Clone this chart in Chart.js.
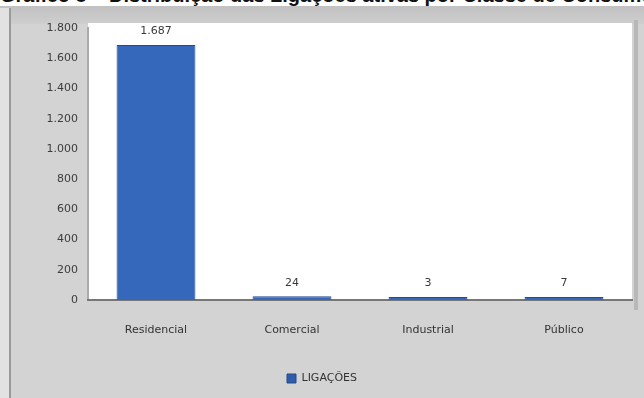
<!DOCTYPE html>
<html>
<head>
<meta charset="utf-8">
<script src="https://cdn.jsdelivr.net/npm/chart.js@4"></script>
<style>
   html, body { margin: 0; padding: 0; background: #d2d2d2; overflow: hidden; }
   #wrap { position: relative; width: 644px; height: 398px; }
   #titulo {
      position: absolute; top: -16px; left: 0; width: 644px;
      font: bold 20px "Liberation Sans", sans-serif; color: #111;
      white-space: nowrap; overflow: hidden; background: #fff; height: 22px;
   }
   canvas { position: absolute; top: 0; left: 0; }
</style>
</head>
<body>
<div id="wrap">
   <canvas id="grafico" width="644" height="398"></canvas>
   <div id="titulo">Gráfico 8 – Distribuição das Ligações ativas por Classe de Consumo – 2013</div>
</div>
<script>
const categorias = ['Residencial', 'Comercial', 'Industrial', 'Público']
const ligacoes = [1687, 24, 3, 7]
const ticksY = [0, 200, 400, 600, 800, 1000, 1200, 1400, 1600, 1800]
const serieNome = 'LIGAÇÕES'

const fmt = v => v.toLocaleString('pt-BR')

// fundo cinza do painel + area branca do grafico
const fundo = {
   id: 'fundo',
   beforeDraw(chart) {
      const { ctx, chartArea: a } = chart
      ctx.save()
      const g = ctx.createLinearGradient(0, 0, 0, 24)
      g.addColorStop(0, '#bdbdbd')
      g.addColorStop(1, '#cecece')
      ctx.fillStyle = g
      ctx.fillRect(0, 0, 644, 24)
      ctx.fillStyle = '#d3d3d3'
      ctx.fillRect(0, 24, 644, 374)
      ctx.fillStyle = '#e2e2e2'
      ctx.fillRect(0, 8, 9, 390)
      ctx.fillStyle = '#9a9a9a'
      ctx.fillRect(9, 8, 2, 390)
      ctx.fillStyle = '#b8b8b8'
      ctx.fillRect(634, 20, 4, 290)
      ctx.fillStyle = '#ffffff'
      ctx.fillRect(a.left, a.top - 5, a.right - a.left, a.bottom - a.top + 5)
      ctx.restore()
   }
}

// rotulos de valor acima das barras
const rotulos = {
   id: 'rotulos',
   afterDatasetsDraw(chart) {
      const { ctx } = chart
      const meta = chart.getDatasetMeta(0)
      ctx.save()
      ctx.font = '11px "DejaVu Sans", sans-serif'
      ctx.fillStyle = '#3a3a3a'
      ctx.textAlign = 'center'
      ctx.textBaseline = 'bottom'
      meta.data.forEach((bar, i) => {
         ctx.fillText(fmt(ligacoes[i]), bar.x, bar.y - 8)
      })
      ctx.restore()
   }
}

// barra com leve degradê horizontal
function corBarra(context) {
   const bar = context.element
   if (!bar || bar.width == null) return '#3567ba'
   const { ctx } = context.chart
   const g = ctx.createLinearGradient(bar.x - bar.width / 2, 0, bar.x + bar.width / 2, 0)
   g.addColorStop(0, '#2c58a4')
   g.addColorStop(0.7, '#3a6fc4')
   g.addColorStop(1, '#2f5ca8')
   return g
}

new Chart(document.getElementById('grafico'), {
   type: 'bar',
   data: {
      labels: categorias,
      datasets: [{
         label: serieNome,
         data: ligacoes,
         backgroundColor: corBarra,
         borderColor: '#24498d',
         borderWidth: 1,
         barPercentage: 0.58,
         categoryPercentage: 1,
         minBarLength: 3
      }]
   },
   options: {
      responsive: false,
      animation: false,
      layout: { padding: { left: 12, right: 12, top: 28, bottom: 4 } },
      scales: {
         y: {
            min: 0,
            max: 1800,
            afterBuildTicks(scale) {
               scale.ticks = ticksY.map(v => ({ value: v }))
            },
            afterFit(scale) { scale.width = 76 },
            grid: { display: false, drawTicks: true, tickLength: 5, tickColor: '#a0a0a0' },
            border: { display: true, color: '#aaaaaa', width: 2 },
            ticks: {
               padding: 5,
               color: '#3c3c3c',
               font: { family: 'DejaVu Sans', size: 11 },
               callback: v => fmt(v)
            }
         },
         x: {
            afterFit(scale) { scale.height = 67 },
            grid: { display: false },
            border: { display: true, color: '#777777', width: 2 },
            ticks: {
               padding: 16,
               color: '#333333',
               font: { family: 'DejaVu Sans', size: 11 }
            }
         }
      },
      plugins: {
         legend: {
            position: 'bottom',
            labels: {
               boxWidth: 9,
               boxHeight: 9,
               color: '#333333',
               padding: 6,
               font: { family: 'DejaVu Sans', size: 11 }
            }
         },
         tooltip: { enabled: false }
      }
   },
   plugins: [fundo, rotulos]
})
</script>
</body>
</html>
